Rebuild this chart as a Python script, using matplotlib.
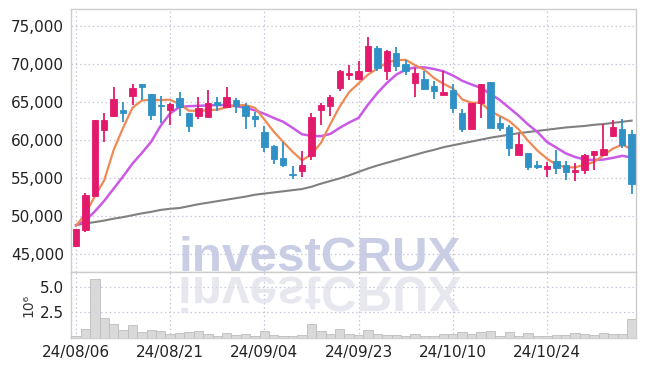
import numpy as np
import matplotlib
matplotlib.use("Agg")
from matplotlib import pyplot as plt
from matplotlib.textpath import TextPath
from matplotlib.patches import PathPatch
from matplotlib.font_manager import FontProperties
import matplotlib.transforms as mtransforms

# ---- data (60 trading days) ----
tick_labels = ["24/08/06", "24/08/21", "24/09/04", "24/09/23", "24/10/10", "24/10/24"]
tick_pos = [0, 10, 20, 30, 40, 50]

opens = [46000, 48200, 52650, 61300, 63150, 64000, 65760, 67380, 66100, 64540,
         63900, 65520, 63550, 63110, 63030, 64960, 64340, 65300, 64520, 63200,
         61050, 59250, 57630, 55520, 55970, 57850, 63900, 64430, 66840, 68510,
         68070, 69030, 72100, 69120, 71450, 70000, 67500, 68030, 67060, 65965,
         66535, 63600, 61490, 64910, 67630, 62190, 61710, 58030, 58250, 56710,
         56230, 57190, 56670, 55790, 56100, 57980, 57980, 60530, 61490, 60830]
highs = [48300, 53000, 62600, 63580, 66950, 64980, 67380, 67380, 66100, 65850,
         64850, 66270, 63600, 65660, 66535, 65660, 66970, 65530, 64870, 63640,
         61800, 59400, 59700, 56540, 58510, 63550, 64870, 65970, 69250, 69820,
         70350, 73500, 72320, 71890, 72190, 70570, 69470, 69035, 67720, 69035,
         67410, 64120, 64910, 67410, 67630, 63070, 61970, 60750, 58330, 57240,
         57100, 58640, 57200, 57020, 58200, 58550, 62150, 62590, 62810, 61270]
lows = [45900, 47950, 52650, 59740, 63050, 62360, 64670, 65200, 62580, 62270,
        62000, 63110, 61050, 62760, 63000, 63770, 64300, 63550, 61450, 61710,
        58420, 56840, 56400, 54900, 55090, 57410, 62020, 63110, 66490, 67940,
        67940, 68950, 69120, 67940, 69120, 68600, 65610, 66620, 65440, 65900,
        63600, 61100, 61490, 62850, 61620, 61180, 57900, 58000, 56010, 56140,
        55130, 55570, 54690, 54560, 55570, 56010, 57950, 60400, 58950, 52940]
closes = [48300, 52800, 62600, 62600, 65400, 63600, 66860, 66950, 63300, 64450,
          64780, 64340, 61800, 64210, 64870, 64650, 65660, 64430, 63110, 62760,
          59080, 57540, 56750, 55440, 56750, 62980, 64650, 65610, 69030, 68820,
          69120, 72320, 69470, 71670, 69780, 69035, 68820, 66760, 66490, 66270,
          64170, 61400, 64910, 67325, 61620, 61620, 58990, 59430, 56490, 56490,
          56535, 56320, 55790, 56010, 58070, 58510, 58860, 61710, 59390, 54170]
volume_m = [0.24, 0.90, 5.76, 1.97, 1.38, 0.80, 1.28, 0.57, 0.80, 0.70,
            0.41, 0.50, 0.60, 0.70, 0.41, 0.24, 0.50, 0.34, 0.41, 0.24,
            0.70, 0.34, 0.24, 0.24, 0.34, 1.38, 0.70, 0.41, 0.83, 0.41,
            0.34, 0.80, 0.41, 0.34, 0.30, 0.24, 0.37, 0.18, 0.18, 0.37,
            0.37, 0.57, 0.41, 0.57, 0.66, 0.21, 0.57, 0.21, 0.47, 0.21,
            0.18, 0.31, 0.31, 0.47, 0.41, 0.31, 0.47, 0.41, 0.41, 1.87]
ma_short = [48700, 50300, 52600, 54700, 58700, 61600, 64250, 65200, 65300, 65250,
            65300, 64700, 63850, 63850, 63900, 64000, 64300, 64550, 64600, 64250,
            62700, 61100, 59750, 58450, 57320, 58100, 59600, 62100, 64400, 66300,
            67450, 68600, 69400, 70200, 70500, 70550, 69850, 69250, 68160, 67400,
            66800, 65350, 64900, 64900, 63800, 63150, 62500, 61400, 59900, 58600,
            57550, 56750, 56400, 56400, 56750, 57100, 57980, 58860, 59390, 58770]
ma_mid = [48800, 49400, 50600, 52000, 53600, 55200, 56900, 58300, 59800, 61900,
          63500, 64350, 64450, 64500, 64550, 64600, 64600, 64450, 64250, 63900,
          63450, 62900, 62400, 61600, 60750, 60550, 60500, 60800, 61600, 62300,
          62900, 64650, 66180, 67500, 68600, 69250, 69560, 69560, 69340, 69050,
          68500, 67800, 67300, 66860, 66050, 65260, 64230, 63200, 62040, 61050,
          59750, 59000, 58250, 57760, 57430, 57370, 57430, 57650, 57920, 57700]
ma_long = [48800, 49000, 49200, 49400, 49650, 49850, 50100, 50350, 50550, 50800,
           50950, 51050, 51300, 51550, 51750, 51950, 52150, 52350, 52550, 52800,
           52950, 53100, 53250, 53400, 53550, 53850, 54250, 54600, 54950, 55350,
           55800, 56250, 56650, 57000, 57350, 57700, 58050, 58400, 58700, 59050,
           59300, 59550, 59800, 60050, 60300, 60500, 60700, 60900, 61050, 61200,
           61350, 61500, 61650, 61750, 61850, 62000, 62100, 62250, 62400, 62550]

UP = "#e3196b"
DOWN = "#2f91c6"
GRID = "#c3c7dc"
FRAME = "#cccccc"
TICKFONT = ["Liberation Sans Narrow", "DejaVu Sans"]

plt.rcParams["font.family"] = TICKFONT

fig = plt.figure(figsize=(6.45, 3.66), dpi=100)
W, H = 645, 366
ax = fig.add_axes([71 / W, 1 - 272 / H, 565 / W, 263 / H])
axv = fig.add_axes([71 / W, 1 - 338 / H, 565 / W, 66 / H], sharex=ax)

x = np.arange(len(closes))
o = np.array(opens); c = np.array(closes)
up = c >= o
cols = np.where(up, UP, DOWN)

# moving averages
ax.plot(x, ma_long, color="#808080", lw=1.5, zorder=3)
ax.plot(x, ma_mid, color="#c95ae6", lw=1.8, zorder=3)
ax.plot(x, ma_short, color="#ee8a55", lw=1.6, zorder=3)

# candles
ax.vlines(x, lows, highs, colors=cols, lw=1.3, zorder=4)
body_lo = np.minimum(o, c)
body_h = np.maximum(np.abs(c - o), 150)
ax.bar(x, body_h, bottom=body_lo, width=0.68, color=cols, edgecolor=cols, lw=0.6, zorder=5)

ax.set_xlim(-0.53, 59.46)
ax.set_ylim(42630, 77240)
ax.set_yticks([45000, 50000, 55000, 60000, 65000, 70000, 75000])
ax.set_yticklabels([f"{v:,}" for v in [45000, 50000, 55000, 60000, 65000, 70000, 75000]])

# volume
axv.bar(x, volume_m, width=1.0, color="#d9d9d9", edgecolor="#bdbdbd", lw=0.6, zorder=3)
axv.set_ylim(0, 6.43)
axv.set_yticks([2.5, 5.0])
axv.set_yticklabels(["2.5", "5.0"])
axv.set_ylabel("10⁶", fontsize=10, color="#333333", labelpad=3)
axv.set_xticks(tick_pos)
axv.set_xticklabels(tick_labels)

for a in (ax, axv):
    a.grid(True, color=GRID, ls=(0, (1.2, 2.2)), lw=0.9)
    a.set_axisbelow(True)
    a.tick_params(length=0, labelsize=11, colors="#222222", pad=5)
    for s in a.spines.values():
        s.set_color(FRAME)
        s.set_linewidth(1.0)
ax.tick_params(labelbottom=False)
axv.spines["bottom"].set_color("#d0d0d0")

# watermark with reflection
wm_color = "#c3c9e3"
fig.text(178 / W, 1 - 271 / H, "investCRUX", fontsize=35.6, fontweight="bold",
         family=["Liberation Sans", "DejaVu Sans"], color=wm_color, alpha=0.9,
         ha="left", va="baseline", zorder=2)
tp = TextPath((0, 0), "investCRUX", size=49.5,
              prop=FontProperties(family="Liberation Sans", weight="bold"))
tr = mtransforms.Affine2D().scale(1, -1).translate(178, H - 277)
fig.add_artist(PathPatch(tp, transform=tr, facecolor="#dedfe9", edgecolor="none",
                         alpha=0.7, zorder=2))

fig.savefig("out.png", dpi=100)
